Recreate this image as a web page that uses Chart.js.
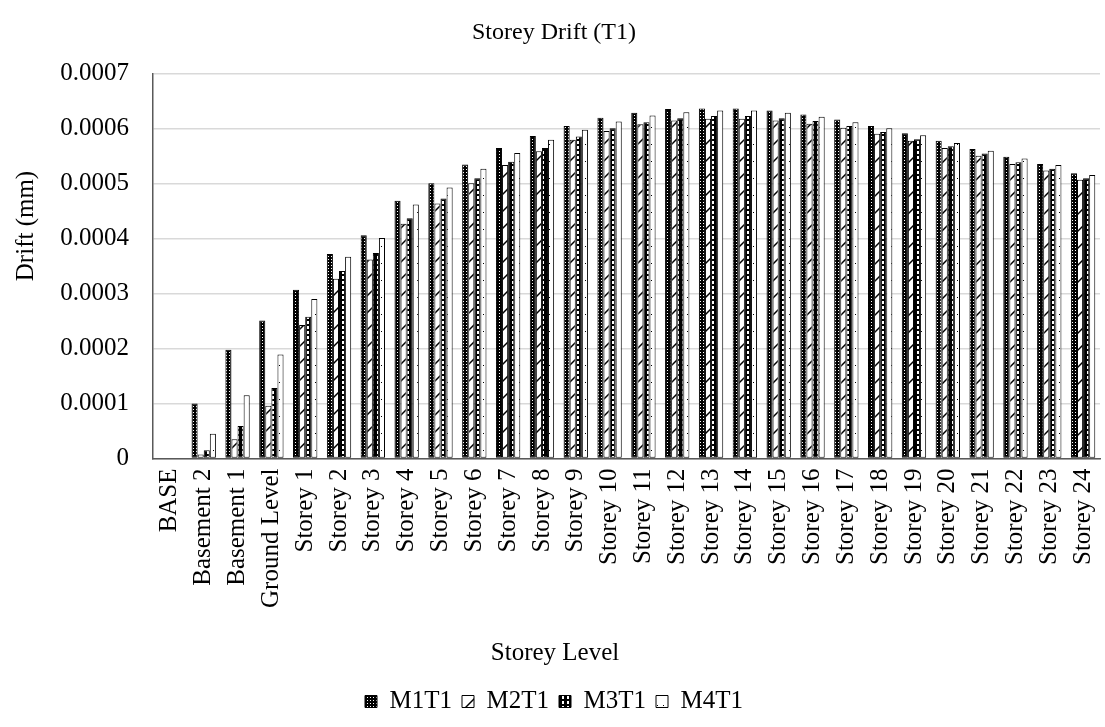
<!DOCTYPE html>
<html>
<head>
<meta charset="utf-8">
<script src="https://cdn.jsdelivr.net/npm/chart.js@4"></script>
<style>
  html, body { margin: 0; padding: 0; background: #fff; }
  #wrap { width: 1105px; height: 727px; }
</style>
</head>
<body>
<div id="wrap"><canvas id="chart" width="1105" height="727"></canvas></div>
<script>
const categories = ["BASE", "Basement 2", "Basement 1", "Ground Level",
  "Storey 1", "Storey 2", "Storey 3", "Storey 4", "Storey 5", "Storey 6", "Storey 7", "Storey 8",
  "Storey 9", "Storey 10", "Storey 11", "Storey 12", "Storey 13", "Storey 14", "Storey 15", "Storey 16",
  "Storey 17", "Storey 18", "Storey 19", "Storey 20", "Storey 21", "Storey 22", "Storey 23", "Storey 24"];

const m1t1 = [0, 0.000100, 0.000198, 0.000251, 0.000307, 0.000372, 0.000406, 0.000469, 0.000501, 0.000535,
  0.000565, 0.000587, 0.000605, 0.000620, 0.000629, 0.000636, 0.000637, 0.000637, 0.000633, 0.000626,
  0.000617, 0.000605, 0.000592, 0.000578, 0.000563, 0.000549, 0.000536, 0.000519];
const m2t1 = [0, 0.000007, 0.000035, 0.000096, 0.000243, 0.000327, 0.000362, 0.000427, 0.000464, 0.000501,
  0.000534, 0.000559, 0.000580, 0.000596, 0.000608, 0.000615, 0.000618, 0.000618, 0.000615, 0.000609,
  0.000602, 0.000591, 0.000578, 0.000565, 0.000551, 0.000536, 0.000524, 0.000507];
const m3t1 = [0, 0.000015, 0.000059, 0.000128, 0.000258, 0.000341, 0.000374, 0.000437, 0.000473, 0.000510,
  0.000540, 0.000565, 0.000586, 0.000601, 0.000612, 0.000619, 0.000623, 0.000623, 0.000619, 0.000614,
  0.000605, 0.000594, 0.000581, 0.000568, 0.000555, 0.000539, 0.000527, 0.000510];
const m4t1 = [0, 0.000045, 0.000115, 0.000189, 0.000290, 0.000367, 0.000401, 0.000462, 0.000493, 0.000527,
  0.000556, 0.000580, 0.000598, 0.000613, 0.000624, 0.000630, 0.000633, 0.000633, 0.000629, 0.000622,
  0.000612, 0.000601, 0.000588, 0.000574, 0.000560, 0.000546, 0.000534, 0.000516];

const yMax = 0.0007;
const yStep = 0.0001;
const FONT = "'Liberation Serif', 'Times New Roman', serif";

// hatch patterns like the excel fills
function makePattern(w, h, draw) {
  const c = document.createElement("canvas");
  c.width = w; c.height = h;
  const g = c.getContext("2d");
  draw(g);
  return document.getElementById("chart").getContext("2d").createPattern(c, "repeat");
}

const patM1 = makePattern(3, 3, g => {
  g.fillStyle = "#000"; g.fillRect(0, 0, 3, 3);
  g.fillStyle = "#fff"; g.fillRect(1, 1, 1, 1);
});
const patM2 = makePattern(17, 17, g => {
  g.fillStyle = "#fff"; g.fillRect(0, 0, 17, 17);
  g.strokeStyle = "#000"; g.lineWidth = 1.5;
  g.beginPath(); g.moveTo(-2, 19); g.lineTo(19, -2); g.stroke();
});
const patM3 = makePattern(5, 5, g => {
  g.fillStyle = "#000"; g.fillRect(0, 0, 5, 5);
  g.fillStyle = "#fff"; g.fillRect(2, 1, 2, 3);
});
const patM4 = makePattern(6, 17, g => {
  g.fillStyle = "#fff"; g.fillRect(0, 0, 6, 17);
  g.fillStyle = "#000"; g.fillRect(3, 8, 1, 1);
});

// axis titles sit off-centre in the original, so they are drawn here
const axisTitles = {
  id: "axisTitles",
  afterDraw(chart) {
    const ctx = chart.ctx;
    ctx.save();
    ctx.font = `25px ${FONT}`;
    ctx.fillStyle = "#000";
    ctx.textAlign = "center";
    ctx.textBaseline = "middle";
    ctx.fillText("Storey Level", 555, 653);
    ctx.translate(26, 226);
    ctx.rotate(-Math.PI / 2);
    ctx.fillText("Drift (mm)", 0, 0);
    ctx.restore();
  }
};

const ds = (label, data, pattern) => ({
  label, data,
  backgroundColor: pattern,
  borderColor: "#000",
  borderWidth: 1,
  borderSkipped: false,
  barPercentage: 1.0,
  categoryPercentage: 0.72
});

new Chart(document.getElementById("chart"), {
  type: "bar",
  data: {
    labels: categories,
    datasets: [
      ds("M1T1", m1t1, patM1),
      ds("M2T1", m2t1, patM2),
      ds("M3T1", m3t1, patM3),
      ds("M4T1", m4t1, patM4)
    ]
  },
  options: {
    responsive: false,
    animation: false,
    layout: { padding: { left: 8, right: 5, top: 0, bottom: 3 } },
    plugins: {
      title: {
        display: true,
        text: "Storey Drift (T1)",
        color: "#000",
        font: { family: FONT, size: 24, weight: "normal" },
        padding: { top: 18, bottom: 27 }
      },
      legend: {
        position: "bottom",
        labels: {
          color: "#000",
          font: { family: FONT, size: 25 },
          boxWidth: 12,
          boxHeight: 12,
          padding: 10
        }
      },
      tooltip: { enabled: false }
    },
    scales: {
      x: {
        afterFit: s => { s.paddingLeft = 0; s.paddingRight = 0; },
        grid: { display: false, drawTicks: false },
        border: { display: true, color: "#595959", width: 1.5 },
        ticks: {
          color: "#000",
          font: { family: FONT, size: 25 },
          minRotation: 90,
          maxRotation: 90,
          autoSkip: false,
          padding: 10
        },
        title: {
          display: true,
          text: "Storey Level",
          color: "rgba(0,0,0,0)",
          font: { family: FONT, size: 25 },
          padding: { top: 21, bottom: 10 }
        }
      },
      y: {
        min: 0,
        max: yMax,
        afterFit: s => { s.width = 145; },
        grid: { color: "#d9d9d9", lineWidth: 1.5, drawTicks: false },
        border: { display: true, color: "#595959", width: 1.5 },
        ticks: {
          stepSize: yStep,
          color: "#000",
          font: { family: FONT, size: 25 },
          padding: 24,
          callback: v => v === 0 ? "0" : v.toFixed(4)
        }
      }
    }
  },
  plugins: [axisTitles]
});
</script>
</body>
</html>
